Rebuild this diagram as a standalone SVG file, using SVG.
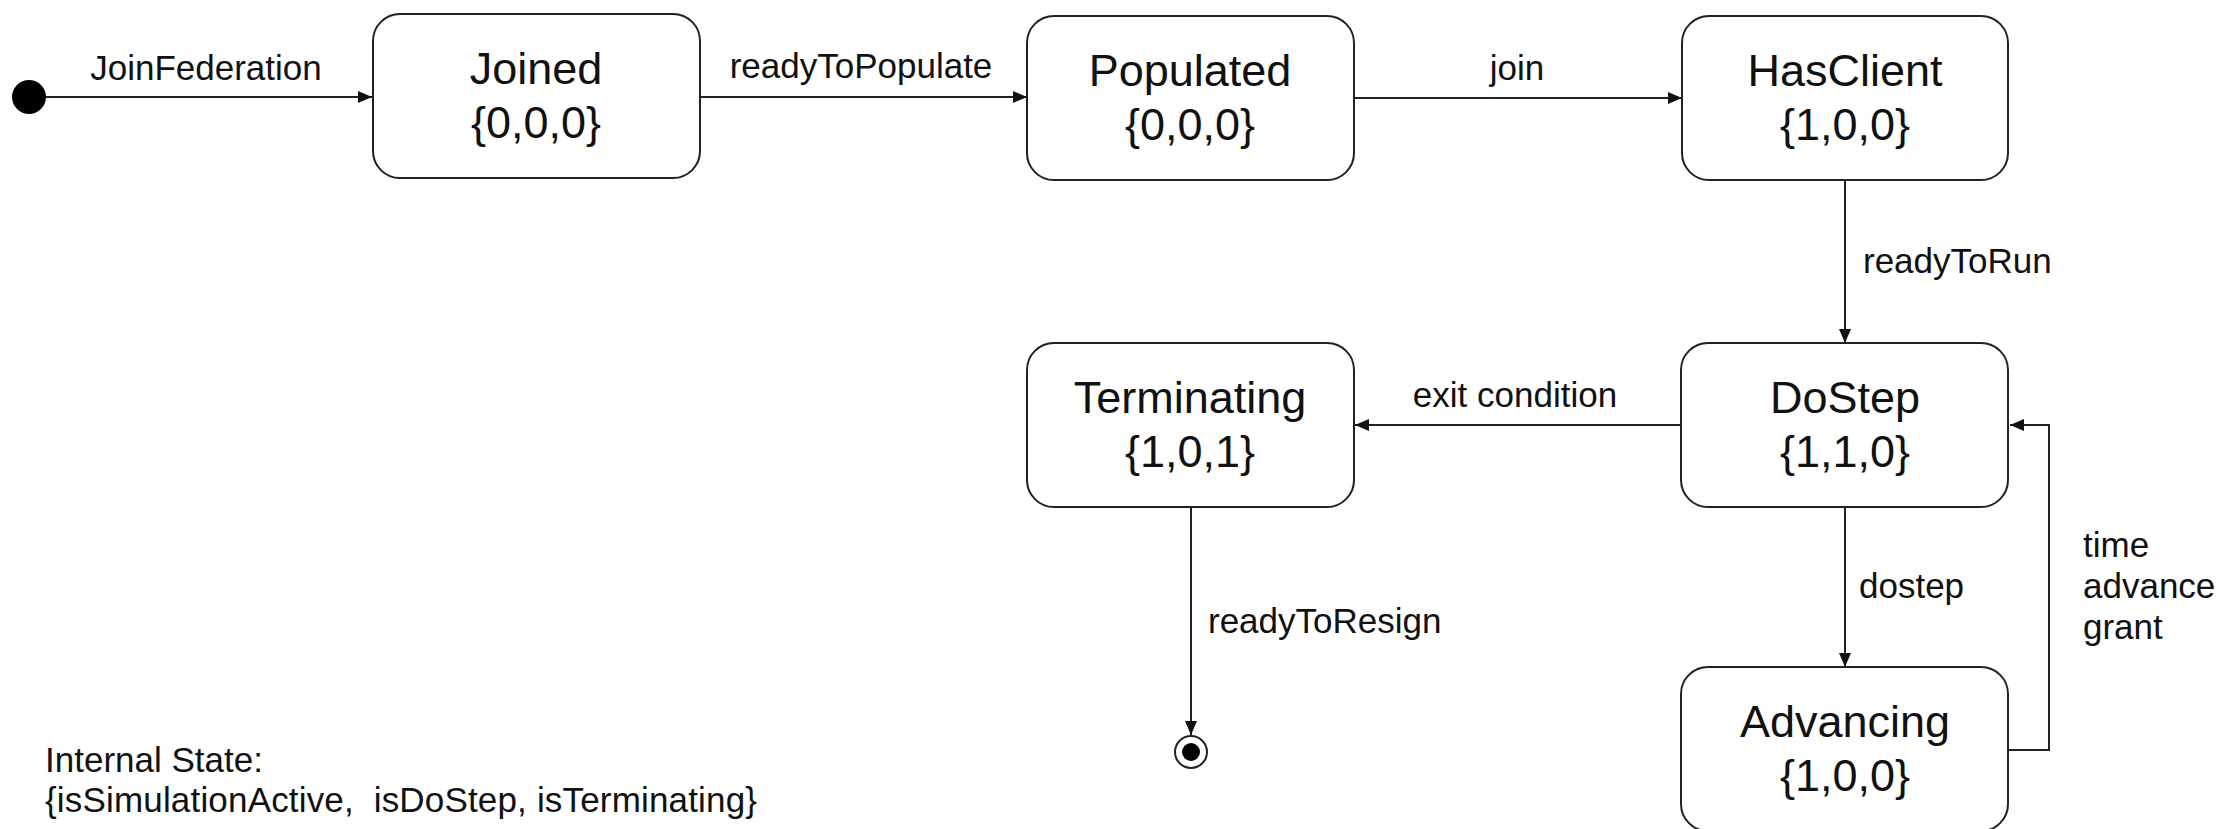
<svg xmlns="http://www.w3.org/2000/svg" width="2225" height="829" viewBox="0 0 2225 829">
  <style>
    .state { fill: #ffffff; stroke: #222222; stroke-width: 2; }
    .name { font-family: "Liberation Sans", Arial, sans-serif; font-size: 45px; fill: #111111; text-anchor: middle; }
    .lbl { font-family: "Liberation Sans", Arial, sans-serif; font-size: 35px; fill: #111111; white-space: pre; }
    .mid { text-anchor: middle; }
    .edge { fill: none; stroke: #222222; stroke-width: 2; marker-end: url(#arrow); }
  </style>
  <defs>
    <marker id="arrow" markerUnits="userSpaceOnUse" markerWidth="14" markerHeight="12" refX="14" refY="6" orient="auto">
      <path d="M0,0 L14,6 L0,12 Z" fill="#111111"/>
    </marker>
  </defs>

  <rect width="2225" height="829" fill="#ffffff"/>

  <!-- transitions -->
  <g id="connectors">
    <line class="edge" x1="46" y1="97" x2="372" y2="97"/>
    <line class="edge" x1="700" y1="97" x2="1027" y2="97"/>
    <line class="edge" x1="1354" y1="98" x2="1682" y2="98"/>
    <line class="edge" x1="1845" y1="180" x2="1845" y2="343"/>
    <line class="edge" x1="1681" y1="425" x2="1355" y2="425"/>
    <line class="edge" x1="1845" y1="507" x2="1845" y2="667"/>
    <path class="edge" d="M2008,750 H2049 V425 H2010"/>
    <line class="edge" x1="1191" y1="507" x2="1191" y2="735"/>

    <text class="lbl mid" x="206" y="80">JoinFederation</text>
    <text class="lbl mid" x="861" y="78">readyToPopulate</text>
    <text class="lbl mid" x="1517" y="80">join</text>
    <text class="lbl" x="1863" y="273">readyToRun</text>
    <text class="lbl mid" x="1515" y="407">exit condition</text>
    <text class="lbl" x="1859" y="598">dostep</text>
    <text class="lbl" x="2083" y="557">time</text>
    <text class="lbl" x="2083" y="598">advance</text>
    <text class="lbl" x="2083" y="639">grant</text>
    <text class="lbl" x="1208" y="633">readyToResign</text>
  </g>

  <!-- pseudo states -->
  <g id="initial">
    <circle cx="29" cy="97" r="17" fill="#000000"/>
  </g>
  <g id="final">
    <circle cx="1191" cy="752" r="16" fill="#ffffff" stroke="#222222" stroke-width="2"/>
    <circle cx="1191" cy="752" r="9" fill="#000000"/>
  </g>

  <!-- states -->
  <g id="joined">
    <rect class="state" x="373" y="14" width="327" height="164" rx="27"/>
    <text class="name" x="536" y="84">Joined</text>
    <text class="name" x="536" y="138">{0,0,0}</text>
  </g>
  <g id="populated">
    <rect class="state" x="1027" y="16" width="327" height="164" rx="27"/>
    <text class="name" x="1190" y="86">Populated</text>
    <text class="name" x="1190" y="140">{0,0,0}</text>
  </g>
  <g id="hasclient">
    <rect class="state" x="1682" y="16" width="326" height="164" rx="27"/>
    <text class="name" x="1845" y="86">HasClient</text>
    <text class="name" x="1845" y="140">{1,0,0}</text>
  </g>
  <g id="terminating">
    <rect class="state" x="1027" y="343" width="327" height="164" rx="27"/>
    <text class="name" x="1190" y="413">Terminating</text>
    <text class="name" x="1190" y="467">{1,0,1}</text>
  </g>
  <g id="dostep">
    <rect class="state" x="1681" y="343" width="327" height="164" rx="27"/>
    <text class="name" x="1845" y="413">DoStep</text>
    <text class="name" x="1845" y="467">{1,1,0}</text>
  </g>
  <g id="advancing">
    <rect class="state" x="1681" y="667" width="327" height="164" rx="27"/>
    <text class="name" x="1845" y="737">Advancing</text>
    <text class="name" x="1845" y="791">{1,0,0}</text>
  </g>

  <!-- legend for the state tuple -->
  <g id="legend">
    <text class="lbl" x="45" y="772">Internal State:</text>
    <text class="lbl" x="45" y="812" textLength="712" lengthAdjust="spacing">{isSimulationActive,  isDoStep, isTerminating}</text>
  </g>
</svg>
